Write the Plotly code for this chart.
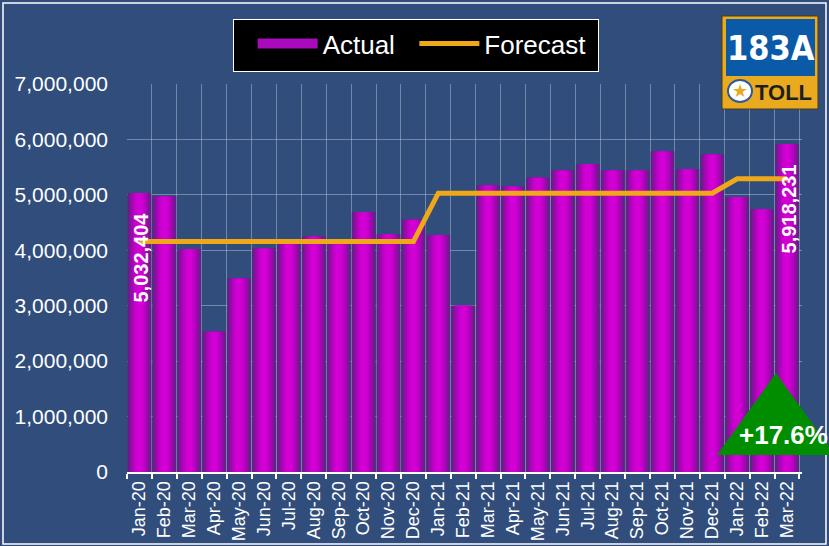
import plotly.graph_objects as go

# monthly transactions
months = ["Jan-20", "Feb-20", "Mar-20", "Apr-20", "May-20", "Jun-20", "Jul-20", "Aug-20", "Sep-20",
          "Oct-20", "Nov-20", "Dec-20", "Jan-21", "Feb-21", "Mar-21", "Apr-21", "May-21", "Jun-21",
          "Jul-21", "Aug-21", "Sep-21", "Oct-21", "Nov-21", "Dec-21", "Jan-22", "Feb-22", "Mar-22"]
actual = [5032404, 4970000, 4020000, 2530000, 3490000, 4030000, 4140000, 4250000, 4120000,
          4690000, 4290000, 4550000, 4270000, 3000000, 5170000, 5150000, 5310000, 5440000,
          5550000, 5440000, 5440000, 5780000, 5460000, 5730000, 4960000, 4740000, 5918231]
forecast = [4157000] * 12 + [5030000] * 12 + [5290000] * 3
growth_label = "+17.6%"

BG = "#304D7C"
FONT = "Arial, Liberation Sans, sans-serif"
NB = "\u00a0"

# plot area in pixels (for placing decorations)
L, R, T, B = 127, 27, 84, 74
W, H = 829, 546
PW, PH = W - L - R, H - T - B


def px(x):
    return (x - L) / PW


def py(y):
    return (H - B - y) / PH


def note(x, y, text, size, color="white", family=FONT):
    fig.add_annotation(xref="paper", yref="paper", x=px(x), y=py(y), text=text,
                       xanchor="center", yanchor="middle", showarrow=False,
                       font=dict(color=color, size=size, family=family))


fig = go.Figure()

# cylinder-looking bars: stacked overlays from dark edge to bright core
layers = [(0.95, "#5E2383"), (0.84, "#7E1598"), (0.70, "#9C0AAE"),
          (0.54, "#B603C2"), (0.38, "#C800CC"), (0.22, "#D200D4")]
for w, c in layers:
    fig.add_trace(go.Bar(
        x=months, y=actual, width=w, marker_color=c, marker_line_width=0,
        name="Actual", showlegend=False
    ))

# legend swatch for the bars (wide magenta strip)
fig.add_trace(go.Scatter(x=[None], y=[None], mode="lines", name="Actual" + NB * 2,
                         line=dict(color="#A80ABC", width=12)))

fig.add_trace(go.Scatter(
    x=months, y=forecast, mode="lines", name="Forecast" + NB,
    line=dict(color="#EFA817", width=5)
))

# rotated value labels on first and last bars
for idx, shift in [(0, -17), (-1, -19)]:
    fig.add_annotation(
        x=months[idx], y=actual[idx], text=f"<b>{actual[idx]:,}</b>",
        textangle=-90, showarrow=False, yanchor="top", yshift=shift, xshift=2,
        font=dict(color="white", size=20, family=FONT)
    )

# green growth triangle
fig.add_shape(type="path", xref="paper", yref="paper",
              path=f"M {px(717)} {py(455)} L {px(776)} {py(373)} L {px(835)} {py(455)} Z",
              fillcolor="#008E00", line=dict(width=0))
note(783, 435, f"<b>{growth_label}</b>", 26)

# 183A TOLL badge
fig.add_shape(type="rect", xref="paper", yref="paper",
              x0=px(722), x1=px(818), y0=py(109), y1=py(16),
              fillcolor="#EAAA1F", line=dict(color="#4A3A10", width=1))
fig.add_shape(type="rect", xref="paper", yref="paper",
              x0=px(726), x1=px(815), y0=py(76), y1=py(19),
              fillcolor="#0B5AA8", line=dict(width=0))
fig.add_shape(type="circle", xref="paper", yref="paper",
              x0=px(728), x1=px(752), y0=py(102), y1=py(80),
              fillcolor="white", line=dict(color="#2A5A9A", width=2))
note(740, 91, "★", 18, color="#EAAA1F")
note(770.5, 48, "<b>183A</b>", 34, family="Liberation Sans Narrow, DejaVu Sans Condensed, Arial Narrow, sans-serif")
note(783, 92, "<b>TOLL</b>", 22, color="#1E1E1E")

# outer frame
fig.add_shape(type="rect", xref="paper", yref="paper",
              x0=px(3), x1=px(826), y0=py(544), y1=py(3),
              line=dict(color="white", width=1.5), layer="below")

fig.update_layout(
    width=W, height=H,
    margin=dict(l=L, r=R, t=T, b=B, autoexpand=False),
    paper_bgcolor=BG, plot_bgcolor=BG,
    barmode="overlay", bargap=0.05,
    font=dict(family=FONT, color="white"),
    showlegend=True,
    legend=dict(orientation="h", x=px(233), y=py(19), xanchor="left", yanchor="top",
                bgcolor="black", bordercolor="white", borderwidth=1,
                title=dict(text=NB, side="left"),
                font=dict(size=26, color="white"), itemwidth=60),
    xaxis=dict(type="category", tickangle=-90, tickson="boundaries",
               ticks="outside", ticklen=5, tickcolor="white", tickwidth=1.5,
               showline=True, linecolor="white", linewidth=2,
               showgrid=True, gridcolor="rgba(200,205,225,0.45)", gridwidth=1,
               tickfont=dict(size=18, color="white")),
    yaxis=dict(range=[0, 7000000], dtick=1000000, tickformat=",d",
               showgrid=True, gridcolor="rgba(200,205,225,0.45)", gridwidth=1,
               zeroline=False, showline=False, ticks="", ticklabelstandoff=18,
               tickfont=dict(size=21, color="white")),
)

fig.write_html("out.html", config={"displayModeBar": False},
               post_script="document.body.style.margin='0px';")
